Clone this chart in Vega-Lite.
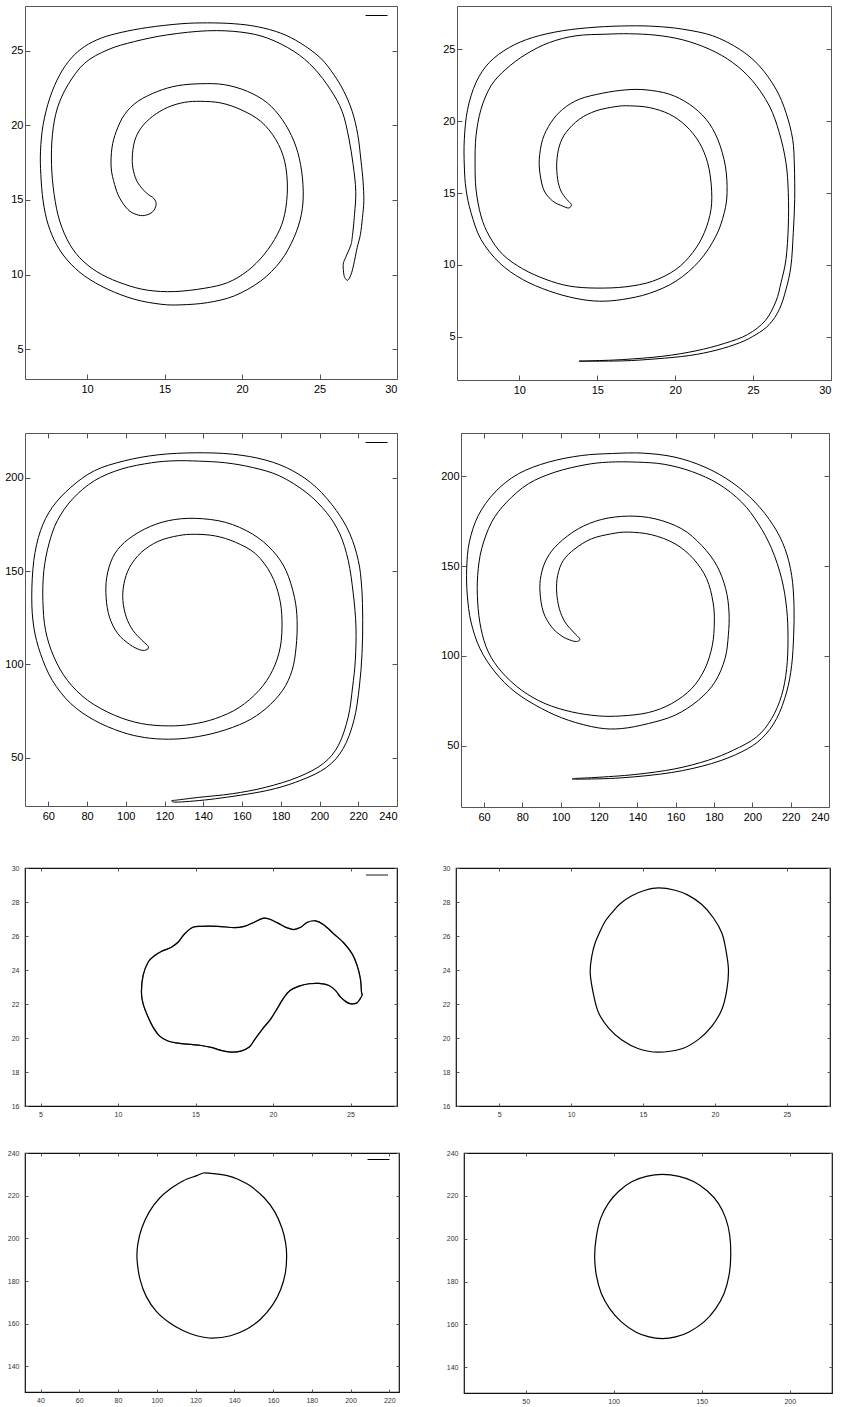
{
"$schema": "https://vega.github.io/schema/vega-lite/v6.json",
"padding": {"left": 4, "top": 3, "right": 5, "bottom": 0},
"background": "white",
"config": {
  "font": "Liberation Sans",
  "axis": {"domain": false, "grid": false, "labelFont": "Liberation Sans", "tickColor": "#555", "labelColor": "#000"},
  "legend": {"orient": "top-right", "offset": 10, "symbolType": "stroke", "symbolSize": 484, "symbolStrokeWidth": 1, "padding": 0, "labelOffset": 0, "labelFontSize": 1}
},
"datasets": {
"p1": [
{"i":1,"x":26.83,"y":9.62},{"i":2,"x":27.04,"y":10.02},{"i":3,"x":27.21,"y":10.69},{"i":4,"x":27.43,"y":11.80},{"i":5,"x":27.64,"y":12.69},{"i":6,"x":27.77,"y":13.81},{"i":7,"x":27.86,"y":14.92},{"i":8,"x":27.81,"y":16.26},{"i":9,"x":27.68,"y":17.60},{"i":10,"x":27.47,"y":19.38},{"i":11,"x":27.11,"y":20.94},{"i":12,"x":26.57,"y":22.28},{"i":13,"x":25.93,"y":23.39},{"i":14,"x":25.07,"y":24.51},{"i":15,"x":23.78,"y":25.51},{"i":16,"x":22.50,"y":26.18},{"i":17,"x":21.00,"y":26.61},{"i":18,"x":19.50,"y":26.81},{"i":19,"x":17.78,"y":26.87},{"i":20,"x":16.07,"y":26.81},{"i":21,"x":13.92,"y":26.56},{"i":22,"x":12.21,"y":26.23},{"i":23,"x":10.92,"y":25.85},{"i":24,"x":9.85,"y":25.29},{"i":25,"x":8.99,"y":24.51},{"i":26,"x":8.24,"y":23.39},{"i":27,"x":7.60,"y":21.83},{"i":28,"x":7.17,"y":20.05},{"i":29,"x":7.00,"y":18.27},{"i":30,"x":7.02,"y":16.71},{"i":31,"x":7.17,"y":14.92},{"i":32,"x":7.49,"y":13.36},{"i":33,"x":8.03,"y":12.02},{"i":34,"x":8.78,"y":10.91},{"i":35,"x":9.85,"y":9.90},{"i":36,"x":11.35,"y":9.01},{"i":37,"x":13.07,"y":8.34},{"i":38,"x":14.78,"y":8.01},{"i":39,"x":16.07,"y":7.97},{"i":40,"x":17.78,"y":8.12},{"i":41,"x":19.50,"y":8.57},{"i":42,"x":21.21,"y":9.57},{"i":43,"x":22.50,"y":10.91},{"i":44,"x":23.35,"y":12.47},{"i":45,"x":23.83,"y":14.03},{"i":46,"x":23.95,"y":15.59},{"i":47,"x":23.78,"y":17.37},{"i":48,"x":23.35,"y":18.94},{"i":49,"x":22.60,"y":20.38},{"i":50,"x":21.64,"y":21.50},{"i":51,"x":20.35,"y":22.28},{"i":52,"x":18.85,"y":22.73},{"i":53,"x":17.35,"y":22.79},{"i":54,"x":15.85,"y":22.66},{"i":55,"x":14.57,"y":22.28},{"i":56,"x":13.28,"y":21.61},{"i":57,"x":12.42,"y":20.72},{"i":58,"x":11.89,"y":19.60},{"i":59,"x":11.61,"y":18.49},{"i":60,"x":11.56,"y":17.15},{"i":61,"x":11.78,"y":16.04},{"i":62,"x":12.10,"y":15.14},{"i":63,"x":12.64,"y":14.36},{"i":64,"x":13.17,"y":14.03},{"i":65,"x":13.71,"y":13.96},{"i":66,"x":14.24,"y":14.21},{"i":67,"x":14.46,"y":14.70},{"i":68,"x":14.31,"y":15.10},{"i":69,"x":13.82,"y":15.48},{"i":70,"x":13.28,"y":16.15},{"i":71,"x":13.00,"y":16.93},{"i":72,"x":12.92,"y":17.82},{"i":73,"x":13.07,"y":18.94},{"i":74,"x":13.49,"y":19.83},{"i":75,"x":14.24,"y":20.61},{"i":76,"x":15.21,"y":21.21},{"i":77,"x":16.28,"y":21.54},{"i":78,"x":17.35,"y":21.61},{"i":79,"x":18.64,"y":21.50},{"i":80,"x":19.93,"y":21.05},{"i":81,"x":21.21,"y":20.27},{"i":82,"x":22.18,"y":19.05},{"i":83,"x":22.75,"y":17.60},{"i":84,"x":22.93,"y":15.81},{"i":85,"x":22.75,"y":14.03},{"i":86,"x":22.28,"y":12.69},{"i":87,"x":21.43,"y":11.35},{"i":88,"x":20.35,"y":10.24},{"i":89,"x":19.07,"y":9.46},{"i":90,"x":17.57,"y":9.08},{"i":91,"x":15.64,"y":8.86},{"i":92,"x":13.92,"y":8.95},{"i":93,"x":12.42,"y":9.35},{"i":94,"x":10.92,"y":10.02},{"i":95,"x":9.74,"y":10.91},{"i":96,"x":8.89,"y":12.02},{"i":97,"x":8.24,"y":13.58},{"i":98,"x":7.88,"y":15.37},{"i":99,"x":7.71,"y":17.37},{"i":100,"x":7.77,"y":19.38},{"i":101,"x":8.09,"y":21.16},{"i":102,"x":8.78,"y":22.73},{"i":103,"x":9.85,"y":24.17},{"i":104,"x":11.35,"y":25.07},{"i":105,"x":13.07,"y":25.62},{"i":106,"x":15.21,"y":26.07},{"i":107,"x":17.78,"y":26.34},{"i":108,"x":19.93,"y":26.25},{"i":109,"x":21.64,"y":25.85},{"i":110,"x":23.35,"y":24.96},{"i":111,"x":24.64,"y":23.84},{"i":112,"x":25.71,"y":22.39},{"i":113,"x":26.46,"y":20.94},{"i":114,"x":26.89,"y":19.16},{"i":115,"x":27.17,"y":17.37},{"i":116,"x":27.34,"y":15.59},{"i":117,"x":27.26,"y":14.03},{"i":118,"x":27.11,"y":12.47},{"i":119,"x":27.00,"y":11.91},{"i":120,"x":26.68,"y":11.13},{"i":121,"x":26.53,"y":10.69},{"i":122,"x":26.57,"y":10.02},{"i":123,"x":26.66,"y":9.75}
],
"p2": [
{"i":1,"x":13.96,"y":3.31},{"i":2,"x":16.63,"y":3.33},{"i":3,"x":18.77,"y":3.47},{"i":4,"x":20.91,"y":3.70},{"i":5,"x":22.62,"y":4.07},{"i":6,"x":24.12,"y":4.58},{"i":7,"x":25.19,"y":5.16},{"i":8,"x":26.04,"y":5.86},{"i":9,"x":26.68,"y":6.90},{"i":10,"x":27.11,"y":8.29},{"i":11,"x":27.43,"y":9.92},{"i":12,"x":27.58,"y":12.24},{"i":13,"x":27.67,"y":14.56},{"i":14,"x":27.65,"y":16.88},{"i":15,"x":27.54,"y":18.74},{"i":16,"x":27.11,"y":20.59},{"i":17,"x":26.47,"y":22.22},{"i":18,"x":25.40,"y":23.84},{"i":19,"x":24.12,"y":25.00},{"i":20,"x":22.41,"y":25.93},{"i":21,"x":20.48,"y":26.39},{"i":22,"x":18.77,"y":26.58},{"i":23,"x":17.06,"y":26.62},{"i":24,"x":14.92,"y":26.53},{"i":25,"x":12.78,"y":26.28},{"i":26,"x":10.86,"y":25.81},{"i":27,"x":9.36,"y":25.12},{"i":28,"x":8.07,"y":24.07},{"i":29,"x":7.22,"y":22.68},{"i":30,"x":6.68,"y":20.82},{"i":31,"x":6.47,"y":18.74},{"i":32,"x":6.47,"y":16.88},{"i":33,"x":6.58,"y":15.26},{"i":34,"x":6.90,"y":13.63},{"i":35,"x":7.54,"y":11.77},{"i":36,"x":8.72,"y":10.15},{"i":37,"x":10.21,"y":8.99},{"i":38,"x":11.93,"y":8.18},{"i":39,"x":13.64,"y":7.67},{"i":40,"x":15.13,"y":7.48},{"i":41,"x":16.63,"y":7.60},{"i":42,"x":18.34,"y":8.02},{"i":43,"x":20.05,"y":8.87},{"i":44,"x":21.55,"y":10.27},{"i":45,"x":22.62,"y":12.01},{"i":46,"x":23.15,"y":13.63},{"i":47,"x":23.33,"y":15.02},{"i":48,"x":23.22,"y":16.88},{"i":49,"x":22.73,"y":18.74},{"i":50,"x":21.98,"y":20.13},{"i":51,"x":20.91,"y":21.17},{"i":52,"x":19.63,"y":21.87},{"i":53,"x":18.13,"y":22.17},{"i":54,"x":16.84,"y":22.17},{"i":55,"x":15.35,"y":21.94},{"i":56,"x":13.85,"y":21.52},{"i":57,"x":12.78,"y":20.82},{"i":58,"x":12.03,"y":19.90},{"i":59,"x":11.50,"y":18.74},{"i":60,"x":11.28,"y":17.34},{"i":61,"x":11.35,"y":16.18},{"i":62,"x":11.60,"y":15.14},{"i":63,"x":12.14,"y":14.44},{"i":64,"x":12.78,"y":14.09},{"i":65,"x":13.17,"y":13.96},{"i":66,"x":13.34,"y":14.19},{"i":67,"x":13.04,"y":14.56},{"i":68,"x":12.67,"y":15.14},{"i":69,"x":12.46,"y":15.95},{"i":70,"x":12.40,"y":17.11},{"i":71,"x":12.57,"y":18.27},{"i":72,"x":12.99,"y":19.20},{"i":73,"x":13.85,"y":20.13},{"i":74,"x":14.92,"y":20.71},{"i":75,"x":16.20,"y":21.01},{"i":76,"x":17.06,"y":21.06},{"i":77,"x":18.34,"y":20.94},{"i":78,"x":19.63,"y":20.48},{"i":79,"x":20.70,"y":19.66},{"i":80,"x":21.55,"y":18.50},{"i":81,"x":22.08,"y":17.11},{"i":82,"x":22.32,"y":15.49},{"i":83,"x":22.30,"y":13.86},{"i":84,"x":21.87,"y":12.24},{"i":85,"x":21.12,"y":10.85},{"i":86,"x":20.05,"y":9.69},{"i":87,"x":18.56,"y":8.87},{"i":88,"x":16.84,"y":8.48},{"i":89,"x":14.92,"y":8.39},{"i":90,"x":13.21,"y":8.53},{"i":91,"x":11.71,"y":8.99},{"i":92,"x":10.21,"y":9.73},{"i":93,"x":8.93,"y":10.73},{"i":94,"x":8.07,"y":12.01},{"i":95,"x":7.54,"y":13.40},{"i":96,"x":7.22,"y":15.26},{"i":97,"x":7.16,"y":17.11},{"i":98,"x":7.22,"y":18.97},{"i":99,"x":7.54,"y":20.82},{"i":100,"x":8.18,"y":22.45},{"i":101,"x":9.14,"y":23.61},{"i":102,"x":10.43,"y":24.65},{"i":103,"x":11.93,"y":25.46},{"i":104,"x":13.64,"y":25.93},{"i":105,"x":15.56,"y":26.04},{"i":106,"x":17.06,"y":26.07},{"i":107,"x":18.77,"y":25.97},{"i":108,"x":20.48,"y":25.65},{"i":109,"x":22.19,"y":25.00},{"i":110,"x":23.69,"y":24.07},{"i":111,"x":24.96,"y":22.80},{"i":112,"x":26.04,"y":21.06},{"i":113,"x":26.68,"y":19.20},{"i":114,"x":27.11,"y":17.11},{"i":115,"x":27.26,"y":15.02},{"i":116,"x":27.26,"y":12.70},{"i":117,"x":27.11,"y":10.38},{"i":118,"x":26.79,"y":8.76},{"i":119,"x":26.47,"y":7.48},{"i":120,"x":25.79,"y":6.14},{"i":121,"x":24.65,"y":5.16},{"i":122,"x":23.15,"y":4.54},{"i":123,"x":21.34,"y":4.03},{"i":124,"x":19.20,"y":3.65},{"i":125,"x":16.63,"y":3.42},{"i":126,"x":14.49,"y":3.33}
],
"p3": [
{"i":1,"x":123.70,"y":26.82},{"i":2,"x":127.18,"y":26.11},{"i":3,"x":146.27,"y":27.89},{"i":4,"x":172.31,"y":32.17},{"i":5,"x":189.66,"y":37.52},{"i":6,"x":203.55,"y":44.66},{"i":7,"x":212.23,"y":54.82},{"i":8,"x":217.78,"y":69.98},{"i":9,"x":220.56,"y":87.82},{"i":10,"x":221.95,"y":105.65},{"i":11,"x":222.30,"y":123.49},{"i":12,"x":221.78,"y":141.32},{"i":13,"x":220.04,"y":155.59},{"i":14,"x":215.70,"y":169.86},{"i":15,"x":208.76,"y":182.34},{"i":16,"x":198.34,"y":194.83},{"i":17,"x":186.19,"y":203.75},{"i":18,"x":172.31,"y":209.45},{"i":19,"x":154.95,"y":212.66},{"i":20,"x":135.85,"y":213.38},{"i":21,"x":116.76,"y":212.31},{"i":22,"x":99.40,"y":209.10},{"i":23,"x":83.78,"y":203.75},{"i":24,"x":71.63,"y":194.83},{"i":25,"x":62.08,"y":184.13},{"i":26,"x":56.01,"y":171.64},{"i":27,"x":52.54,"y":155.59},{"i":28,"x":51.49,"y":135.97},{"i":29,"x":52.54,"y":119.92},{"i":30,"x":56.01,"y":105.65},{"i":31,"x":62.08,"y":91.39},{"i":32,"x":71.63,"y":78.90},{"i":33,"x":83.78,"y":69.98},{"i":34,"x":97.67,"y":63.74},{"i":35,"x":109.82,"y":60.71},{"i":36,"x":121.97,"y":59.82},{"i":37,"x":134.12,"y":60.71},{"i":38,"x":148.01,"y":63.74},{"i":39,"x":161.89,"y":69.09},{"i":40,"x":172.31,"y":76.23},{"i":41,"x":180.99,"y":86.03},{"i":42,"x":185.85,"y":96.74},{"i":43,"x":187.93,"y":109.22},{"i":44,"x":188.45,"y":123.49},{"i":45,"x":187.06,"y":135.97},{"i":46,"x":182.72,"y":150.24},{"i":47,"x":175.78,"y":160.94},{"i":48,"x":165.36,"y":169.86},{"i":49,"x":151.48,"y":176.10},{"i":50,"x":135.85,"y":178.24},{"i":51,"x":121.97,"y":176.99},{"i":52,"x":109.82,"y":172.53},{"i":53,"x":99.40,"y":165.40},{"i":54,"x":93.33,"y":157.37},{"i":55,"x":90.20,"y":146.67},{"i":56,"x":89.86,"y":135.97},{"i":57,"x":91.59,"y":125.27},{"i":58,"x":95.93,"y":116.36},{"i":59,"x":102.01,"y":110.65},{"i":60,"x":107.21,"y":107.79},{"i":61,"x":110.34,"y":107.61},{"i":62,"x":111.73,"y":109.40},{"i":63,"x":108.43,"y":112.79},{"i":64,"x":103.74,"y":118.14},{"i":65,"x":100.27,"y":125.27},{"i":66,"x":98.53,"y":134.19},{"i":67,"x":99.06,"y":143.11},{"i":68,"x":102.01,"y":152.02},{"i":69,"x":108.08,"y":160.05},{"i":70,"x":116.76,"y":165.94},{"i":71,"x":127.18,"y":168.97},{"i":72,"x":135.85,"y":169.68},{"i":73,"x":146.27,"y":168.79},{"i":74,"x":156.69,"y":165.40},{"i":75,"x":167.10,"y":159.16},{"i":76,"x":174.91,"y":148.46},{"i":77,"x":179.25,"y":135.97},{"i":78,"x":180.64,"y":123.49},{"i":79,"x":179.77,"y":109.22},{"i":80,"x":175.78,"y":96.74},{"i":81,"x":168.84,"y":86.03},{"i":82,"x":158.42,"y":76.76},{"i":83,"x":146.27,"y":70.87},{"i":84,"x":134.12,"y":67.84},{"i":85,"x":121.97,"y":66.95},{"i":86,"x":108.08,"y":68.20},{"i":87,"x":94.20,"y":72.66},{"i":88,"x":80.31,"y":80.68},{"i":89,"x":69.89,"y":91.39},{"i":90,"x":62.95,"y":103.87},{"i":91,"x":58.61,"y":118.14},{"i":92,"x":57.22,"y":134.19},{"i":93,"x":57.74,"y":150.24},{"i":94,"x":60.35,"y":164.51},{"i":95,"x":64.69,"y":176.99},{"i":96,"x":72.50,"y":188.59},{"i":97,"x":83.78,"y":198.39},{"i":98,"x":97.67,"y":204.64},{"i":99,"x":113.29,"y":208.03},{"i":100,"x":125.44,"y":209.10},{"i":101,"x":137.59,"y":208.92},{"i":102,"x":151.48,"y":208.03},{"i":103,"x":165.36,"y":205.53},{"i":104,"x":179.25,"y":201.07},{"i":105,"x":193.14,"y":192.15},{"i":106,"x":203.55,"y":181.45},{"i":107,"x":210.50,"y":169.86},{"i":108,"x":214.84,"y":155.59},{"i":109,"x":217.44,"y":137.76},{"i":110,"x":218.83,"y":119.92},{"i":111,"x":218.48,"y":102.09},{"i":112,"x":217.09,"y":87.82},{"i":113,"x":214.83,"y":71.77},{"i":114,"x":209.80,"y":56.61},{"i":115,"x":201.99,"y":46.80},{"i":116,"x":188.97,"y":39.49},{"i":117,"x":171.96,"y":33.96},{"i":118,"x":154.95,"y":30.57},{"i":119,"x":137.59,"y":28.61},{"i":120,"x":126.31,"y":27.18}
],
"p4": [
{"i":1,"x":107.13,"y":31.85},{"i":2,"x":109.22,"y":31.48},{"i":3,"x":131.83,"y":32.22},{"i":4,"x":157.91,"y":35.18},{"i":5,"x":178.78,"y":40.18},{"i":6,"x":194.43,"y":46.67},{"i":7,"x":204.87,"y":54.07},{"i":8,"x":212.69,"y":65.18},{"i":9,"x":217.91,"y":80.00},{"i":10,"x":220.52,"y":94.81},{"i":11,"x":221.56,"y":111.48},{"i":12,"x":221.74,"y":128.15},{"i":13,"x":220.52,"y":144.81},{"i":14,"x":217.04,"y":159.63},{"i":15,"x":210.96,"y":172.59},{"i":16,"x":201.39,"y":185.56},{"i":17,"x":189.22,"y":196.67},{"i":18,"x":175.30,"y":205.00},{"i":19,"x":159.65,"y":210.56},{"i":20,"x":143.00,"y":212.80},{"i":21,"x":127.00,"y":212.60},{"i":22,"x":110.96,"y":211.48},{"i":23,"x":93.57,"y":207.78},{"i":24,"x":77.91,"y":201.30},{"i":25,"x":65.74,"y":191.11},{"i":26,"x":57.04,"y":178.15},{"i":27,"x":52.35,"y":163.33},{"i":28,"x":50.96,"y":148.52},{"i":29,"x":51.30,"y":133.70},{"i":30,"x":53.22,"y":118.89},{"i":31,"x":57.91,"y":104.07},{"i":32,"x":65.74,"y":91.11},{"i":33,"x":76.17,"y":80.00},{"i":34,"x":90.09,"y":70.74},{"i":35,"x":104.00,"y":64.26},{"i":36,"x":119.65,"y":60.00},{"i":37,"x":131.83,"y":59.63},{"i":38,"x":145.74,"y":62.41},{"i":39,"x":159.65,"y":67.04},{"i":40,"x":171.83,"y":75.37},{"i":41,"x":180.52,"y":85.55},{"i":42,"x":185.74,"y":98.52},{"i":43,"x":187.48,"y":111.48},{"i":44,"x":187.83,"y":124.44},{"i":45,"x":186.09,"y":137.41},{"i":46,"x":181.39,"y":150.37},{"i":47,"x":173.57,"y":161.48},{"i":48,"x":163.13,"y":170.74},{"i":49,"x":149.22,"y":176.30},{"i":50,"x":135.30,"y":177.78},{"i":51,"x":121.39,"y":175.93},{"i":52,"x":109.22,"y":170.74},{"i":53,"x":98.78,"y":162.41},{"i":54,"x":92.70,"y":154.07},{"i":55,"x":89.74,"y":144.81},{"i":56,"x":89.22,"y":135.56},{"i":57,"x":90.96,"y":124.44},{"i":58,"x":95.30,"y":116.11},{"i":59,"x":100.52,"y":111.11},{"i":60,"x":105.74,"y":108.52},{"i":61,"x":108.87,"y":108.15},{"i":62,"x":109.91,"y":109.63},{"i":63,"x":106.61,"y":113.33},{"i":64,"x":102.26,"y":118.89},{"i":65,"x":99.30,"y":126.30},{"i":66,"x":97.91,"y":135.56},{"i":67,"x":98.43,"y":144.81},{"i":68,"x":101.39,"y":153.15},{"i":69,"x":107.48,"y":159.63},{"i":70,"x":116.17,"y":165.19},{"i":71,"x":126.61,"y":167.96},{"i":72,"x":135.30,"y":168.89},{"i":73,"x":147.48,"y":167.41},{"i":74,"x":159.65,"y":162.41},{"i":75,"x":169.22,"y":154.07},{"i":76,"x":176.17,"y":142.96},{"i":77,"x":179.48,"y":130.00},{"i":78,"x":180.17,"y":118.89},{"i":79,"x":179.13,"y":105.93},{"i":80,"x":175.30,"y":92.96},{"i":81,"x":168.35,"y":81.85},{"i":82,"x":157.91,"y":73.52},{"i":83,"x":145.74,"y":68.52},{"i":84,"x":131.83,"y":66.67},{"i":85,"x":119.65,"y":66.67},{"i":86,"x":105.74,"y":68.89},{"i":87,"x":91.83,"y":73.52},{"i":88,"x":79.65,"y":80.93},{"i":89,"x":69.22,"y":91.11},{"i":90,"x":62.26,"y":102.22},{"i":91,"x":58.43,"y":115.19},{"i":92,"x":56.70,"y":130.00},{"i":93,"x":56.70,"y":144.81},{"i":94,"x":58.78,"y":159.63},{"i":95,"x":64.00,"y":174.44},{"i":96,"x":71.83,"y":185.56},{"i":97,"x":83.13,"y":195.74},{"i":98,"x":97.04,"y":202.22},{"i":99,"x":112.70,"y":206.30},{"i":100,"x":125.00,"y":207.80},{"i":101,"x":140.00,"y":207.80},{"i":102,"x":154.00,"y":206.60},{"i":103,"x":168.35,"y":202.59},{"i":104,"x":182.26,"y":195.74},{"i":105,"x":194.43,"y":185.56},{"i":106,"x":203.13,"y":173.52},{"i":107,"x":210.09,"y":159.63},{"i":108,"x":215.30,"y":142.96},{"i":109,"x":217.91,"y":126.30},{"i":110,"x":218.61,"y":109.63},{"i":111,"x":217.91,"y":92.96},{"i":112,"x":215.30,"y":78.15},{"i":113,"x":210.09,"y":65.18},{"i":114,"x":202.26,"y":55.00},{"i":115,"x":190.09,"y":47.59},{"i":116,"x":177.04,"y":42.04},{"i":117,"x":159.65,"y":37.22},{"i":118,"x":138.78,"y":34.07},{"i":119,"x":117.91,"y":32.41}
],
"p5": [
{"i":1,"x":11.51,"y":22.70},{"i":2,"x":11.62,"y":23.68},{"i":3,"x":11.94,"y":24.46},{"i":4,"x":12.37,"y":24.85},{"i":5,"x":12.79,"y":25.09},{"i":6,"x":13.44,"y":25.34},{"i":7,"x":13.87,"y":25.63},{"i":8,"x":14.29,"y":26.12},{"i":9,"x":14.83,"y":26.51},{"i":10,"x":15.36,"y":26.57},{"i":11,"x":16.43,"y":26.57},{"i":12,"x":17.51,"y":26.49},{"i":13,"x":18.15,"y":26.57},{"i":14,"x":18.79,"y":26.81},{"i":15,"x":19.33,"y":27.04},{"i":16,"x":19.75,"y":27.00},{"i":17,"x":20.29,"y":26.77},{"i":18,"x":20.82,"y":26.51},{"i":19,"x":21.32,"y":26.38},{"i":20,"x":21.79,"y":26.51},{"i":21,"x":22.22,"y":26.81},{"i":22,"x":22.75,"y":26.89},{"i":23,"x":23.29,"y":26.65},{"i":24,"x":23.93,"y":26.12},{"i":25,"x":24.57,"y":25.59},{"i":26,"x":25.11,"y":24.95},{"i":27,"x":25.43,"y":24.26},{"i":28,"x":25.64,"y":23.48},{"i":29,"x":25.71,"y":22.70},{"i":30,"x":25.75,"y":22.54},{"i":31,"x":25.60,"y":22.27},{"i":32,"x":25.39,"y":22.05},{"i":33,"x":25.04,"y":22.01},{"i":34,"x":24.74,"y":22.11},{"i":35,"x":24.36,"y":22.40},{"i":36,"x":24.04,"y":22.79},{"i":37,"x":23.61,"y":23.09},{"i":38,"x":22.97,"y":23.21},{"i":39,"x":22.32,"y":23.19},{"i":40,"x":21.68,"y":23.05},{"i":41,"x":21.10,"y":22.79},{"i":42,"x":20.72,"y":22.40},{"i":43,"x":20.29,"y":21.76},{"i":44,"x":19.86,"y":21.13},{"i":45,"x":19.33,"y":20.54},{"i":46,"x":18.83,"y":19.92},{"i":47,"x":18.47,"y":19.47},{"i":48,"x":17.93,"y":19.23},{"i":49,"x":17.29,"y":19.17},{"i":50,"x":16.65,"y":19.27},{"i":51,"x":16.01,"y":19.45},{"i":52,"x":15.36,"y":19.56},{"i":53,"x":14.72,"y":19.62},{"i":54,"x":13.87,"y":19.70},{"i":55,"x":13.22,"y":19.82},{"i":56,"x":12.69,"y":20.11},{"i":57,"x":12.26,"y":20.64},{"i":58,"x":11.94,"y":21.23},{"i":59,"x":11.62,"y":22.01}
],
"p6": [
{"i":1,"x":16.08,"y":28.83},{"i":2,"x":17.24,"y":28.69},{"i":3,"x":18.16,"y":28.39},{"i":4,"x":19.09,"y":27.85},{"i":5,"x":19.90,"y":27.06},{"i":6,"x":20.48,"y":26.18},{"i":7,"x":20.76,"y":25.20},{"i":8,"x":20.94,"y":24.03},{"i":9,"x":20.83,"y":22.85},{"i":10,"x":20.48,"y":21.68},{"i":11,"x":19.79,"y":20.70},{"i":12,"x":18.86,"y":19.92},{"i":13,"x":17.70,"y":19.37},{"i":14,"x":16.03,"y":19.17},{"i":15,"x":14.69,"y":19.37},{"i":16,"x":13.53,"y":19.88},{"i":17,"x":12.60,"y":20.60},{"i":18,"x":11.91,"y":21.48},{"i":19,"x":11.56,"y":22.56},{"i":20,"x":11.33,"y":23.83},{"i":21,"x":11.44,"y":24.81},{"i":22,"x":11.67,"y":25.59},{"i":23,"x":12.02,"y":26.28},{"i":24,"x":12.37,"y":26.87},{"i":25,"x":12.83,"y":27.36},{"i":26,"x":13.41,"y":27.90},{"i":27,"x":14.22,"y":28.37},{"i":28,"x":15.15,"y":28.69}
],
"p7": [
{"i":1,"x":124.16,"y":230.63},{"i":2,"x":129.39,"y":230.31},{"i":3,"x":136.36,"y":229.38},{"i":4,"x":141.59,"y":227.81},{"i":5,"x":148.56,"y":224.38},{"i":6,"x":155.53,"y":218.91},{"i":7,"x":160.75,"y":212.66},{"i":8,"x":164.59,"y":204.84},{"i":9,"x":166.50,"y":197.81},{"i":10,"x":167.03,"y":191.56},{"i":11,"x":166.33,"y":183.75},{"i":12,"x":163.89,"y":175.94},{"i":13,"x":159.88,"y":168.91},{"i":14,"x":153.78,"y":162.34},{"i":15,"x":146.81,"y":157.66},{"i":16,"x":138.10,"y":154.38},{"i":17,"x":128.52,"y":153.28},{"i":18,"x":120.68,"y":154.38},{"i":19,"x":113.71,"y":156.72},{"i":20,"x":106.74,"y":160.31},{"i":21,"x":99.77,"y":165.78},{"i":22,"x":94.54,"y":172.81},{"i":23,"x":91.40,"y":180.63},{"i":24,"x":89.83,"y":190.00},{"i":25,"x":90.18,"y":197.03},{"i":26,"x":92.27,"y":204.84},{"i":27,"x":96.28,"y":212.66},{"i":28,"x":101.51,"y":218.91},{"i":29,"x":107.61,"y":223.59},{"i":30,"x":113.71,"y":227.03},{"i":31,"x":120.68,"y":229.38}
],
"p8": [
{"i":1,"x":127.65,"y":230.03},{"i":2,"x":137.12,"y":229.10},{"i":3,"x":145.64,"y":226.60},{"i":4,"x":153.22,"y":222.24},{"i":5,"x":159.47,"y":216.48},{"i":6,"x":163.64,"y":209.47},{"i":7,"x":165.91,"y":201.68},{"i":8,"x":166.48,"y":191.87},{"i":9,"x":165.53,"y":183.01},{"i":10,"x":162.69,"y":174.42},{"i":11,"x":157.95,"y":167.41},{"i":12,"x":151.33,"y":161.18},{"i":13,"x":142.80,"y":156.51},{"i":14,"x":135.23,"y":154.17},{"i":15,"x":127.65,"y":153.40},{"i":16,"x":120.08,"y":154.17},{"i":17,"x":112.50,"y":156.51},{"i":18,"x":104.36,"y":161.18},{"i":19,"x":97.73,"y":167.41},{"i":20,"x":92.99,"y":174.42},{"i":21,"x":90.15,"y":182.99},{"i":22,"x":89.20,"y":191.87},{"i":23,"x":90.15,"y":200.90},{"i":24,"x":92.61,"y":209.47},{"i":25,"x":96.97,"y":216.48},{"i":26,"x":103.03,"y":222.24},{"i":27,"x":110.23,"y":226.60},{"i":28,"x":118.56,"y":229.10}
]
},
"spacing": 39,
"resolve": {"scale": {"color": "independent"}, "legend": {"color": "independent"}},
"vconcat": [
{
"spacing": 34,
"resolve": {"scale": {"color": "independent"}, "legend": {"color": "independent"}},
"vconcat": [
{
 "hconcat": [
  {
   "width": 372, "height": 373,
   "view": {"stroke": "#555"},
   "data": {"name": "p1"},
   "resolve": {"axis": {"x": "independent", "y": "independent"}},
   "layer": [
    {"mark": {"type": "line", "interpolate": "cardinal-closed", "strokeWidth": 1},
     "encoding": {
      "x": {"field": "x", "type": "quantitative", "scale": {"domain": [6, 30], "nice": false, "zero": false}, "axis": {"orient": "bottom", "title": null, "values": [10, 15, 20, 25, 30], "tickSize": -5, "labelPadding": 9, "labelFontSize": 11}},
      "y": {"field": "y", "type": "quantitative", "scale": {"domain": [3, 28], "nice": false, "zero": false}, "axis": {"orient": "left", "title": null, "values": [5, 10, 15, 20, 25], "tickSize": -5, "labelPadding": 7, "labelFontSize": 11}},
      "order": {"field": "i", "type": "quantitative"},
      "color": {"datum": "k", "scale": {"range": ["#000000"]}, "legend": {"title": null, "labelExpr": "''", "orient": "none", "legendX": 340, "legendY": -2}}
     }},
    {"mark": {"type": "line", "interpolate": "cardinal-closed", "opacity": 0},
     "encoding": {
      "x": {"field": "x", "type": "quantitative", "scale": {"domain": [6, 30], "nice": false, "zero": false}, "axis": null},
      "y": {"field": "y", "type": "quantitative", "scale": {"domain": [3, 28], "nice": false, "zero": false}, "axis": {"orient": "right", "title": null, "values": [5, 10, 15, 20, 25], "tickSize": -5, "labels": false}},
      "order": {"field": "i", "type": "quantitative"}
     }}
   ]
  },
  {
   "width": 374, "height": 374,
   "view": {"stroke": "#555"},
   "data": {"name": "p2"},
   "resolve": {"axis": {"x": "independent", "y": "independent"}},
   "layer": [
    {"mark": {"type": "line", "interpolate": "cardinal-closed", "strokeWidth": 1, "color": "#000000"},
     "encoding": {
      "x": {"field": "x", "type": "quantitative", "scale": {"domain": [6, 30], "nice": false, "zero": false}, "axis": {"orient": "bottom", "title": null, "values": [10, 15, 20, 25, 30], "tickSize": -5, "labelPadding": 9, "labelFontSize": 11}},
      "y": {"field": "y", "type": "quantitative", "scale": {"domain": [2, 28], "nice": false, "zero": false}, "axis": {"orient": "left", "title": null, "values": [5, 10, 15, 20, 25], "tickSize": -5, "labelPadding": 7, "labelFontSize": 11}},
      "order": {"field": "i", "type": "quantitative"}
     }},
    {"mark": {"type": "line", "interpolate": "cardinal-closed", "opacity": 0},
     "encoding": {
      "x": {"field": "x", "type": "quantitative", "scale": {"domain": [6, 30], "nice": false, "zero": false}, "axis": null},
      "y": {"field": "y", "type": "quantitative", "scale": {"domain": [2, 28], "nice": false, "zero": false}, "axis": {"orient": "right", "title": null, "values": [5, 10, 15, 20, 25], "tickSize": -5, "labels": false}},
      "order": {"field": "i", "type": "quantitative"}
     }}
   ]
  }
 ],
 "spacing": 60,
 "bounds": "flush",
 "resolve": {"scale": {"color": "independent"}, "legend": {"color": "independent"}}
},
{
 "hconcat": [
  {
   "width": 372, "height": 373,
   "view": {"stroke": "#555"},
   "data": {"name": "p3"},
   "resolve": {"axis": {"x": "independent", "y": "independent"}},
   "layer": [
    {"mark": {"type": "line", "interpolate": "cardinal-closed", "strokeWidth": 1},
     "encoding": {
      "x": {"field": "x", "type": "quantitative", "scale": {"domain": [48, 240], "nice": false, "zero": false}, "axis": {"orient": "bottom", "title": null, "values": [60, 80, 100, 120, 140, 160, 180, 200, 220, 240], "tickSize": -5, "labelPadding": 9, "labelFontSize": 11}},
      "y": {"field": "y", "type": "quantitative", "scale": {"domain": [24, 224], "nice": false, "zero": false}, "axis": {"orient": "left", "title": null, "values": [50, 100, 150, 200], "tickSize": -5, "labelPadding": 7, "labelFontSize": 11}},
      "order": {"field": "i", "type": "quantitative"},
      "color": {"datum": "k", "scale": {"range": ["#000000"]}, "legend": {"title": null, "labelExpr": "''", "orient": "none", "legendX": 340, "legendY": -2}}
     }},
    {"mark": {"type": "line", "interpolate": "cardinal-closed", "opacity": 0},
     "encoding": {
      "x": {"field": "x", "type": "quantitative", "scale": {"domain": [48, 240], "nice": false, "zero": false}, "axis": {"orient": "top", "title": null, "values": [60, 80, 100, 120, 140, 160, 180, 200, 220, 240], "tickSize": -5, "labels": false}},
      "y": {"field": "y", "type": "quantitative", "scale": {"domain": [24, 224], "nice": false, "zero": false}, "axis": {"orient": "right", "title": null, "values": [50, 100, 150, 200], "tickSize": -5, "labels": false}},
      "order": {"field": "i", "type": "quantitative"}
     }}
   ]
  },
  {
   "width": 368, "height": 374,
   "view": {"stroke": "#555"},
   "data": {"name": "p4"},
   "resolve": {"axis": {"x": "independent", "y": "independent"}},
   "layer": [
    {"mark": {"type": "line", "interpolate": "cardinal-closed", "strokeWidth": 1, "color": "#000000"},
     "encoding": {
      "x": {"field": "x", "type": "quantitative", "scale": {"domain": [48, 240], "nice": false, "zero": false}, "axis": {"orient": "bottom", "title": null, "values": [60, 80, 100, 120, 140, 160, 180, 200, 220, 240], "tickSize": -5, "labelPadding": 9, "labelFontSize": 11}},
      "y": {"field": "y", "type": "quantitative", "scale": {"domain": [16, 224], "nice": false, "zero": false}, "axis": {"orient": "left", "title": null, "values": [50, 100, 150, 200], "tickSize": -5, "labelPadding": 7, "labelFontSize": 11}},
      "order": {"field": "i", "type": "quantitative"}
     }},
    {"mark": {"type": "line", "interpolate": "cardinal-closed", "opacity": 0},
     "encoding": {
      "x": {"field": "x", "type": "quantitative", "scale": {"domain": [48, 240], "nice": false, "zero": false}, "axis": {"orient": "top", "title": null, "values": [60, 80, 100, 120, 140, 160, 180, 200, 220, 240], "tickSize": -5, "labels": false}},
      "y": {"field": "y", "type": "quantitative", "scale": {"domain": [16, 224], "nice": false, "zero": false}, "axis": {"orient": "right", "title": null, "values": [50, 100, 150, 200], "tickSize": -5, "labels": false}},
      "order": {"field": "i", "type": "quantitative"}
     }}
   ]
  }
 ],
 "spacing": 64,
 "bounds": "flush",
 "resolve": {"scale": {"color": "independent"}, "legend": {"color": "independent"}}
}
]
},
{
"spacing": 28,
"resolve": {"scale": {"color": "independent"}, "legend": {"color": "independent"}},
"vconcat": [
{
 "hconcat": [
  {
   "width": 372, "height": 238,
   "view": {"stroke": "#111", "strokeWidth": 1.2},
   "data": {"name": "p5"},
   "resolve": {"axis": {"x": "independent", "y": "independent"}},
   "layer": [
    {"mark": {"type": "line", "interpolate": "cardinal-closed", "strokeWidth": 1.2},
     "encoding": {
      "x": {"field": "x", "type": "quantitative", "scale": {"domain": [4, 28], "nice": false, "zero": false}, "axis": {"orient": "bottom", "title": null, "values": [5, 10, 15, 20, 25], "tickSize": -3, "labelPadding": 7.5, "labelFontSize": 7, "labelColor": "#333"}},
      "y": {"field": "y", "type": "quantitative", "scale": {"domain": [16, 30], "nice": false, "zero": false}, "axis": {"orient": "left", "title": null, "values": [16, 18, 20, 22, 24, 26, 28, 30], "tickSize": -3, "labelPadding": 9, "labelFontSize": 7, "labelColor": "#333"}},
      "order": {"field": "i", "type": "quantitative"},
      "color": {"datum": "k", "scale": {"range": ["#666666"]}, "legend": {"title": null, "labelExpr": "''", "orient": "none", "legendX": 340, "legendY": -5, "symbolStrokeWidth": 1.5}}
     }},
    {"mark": {"type": "line", "interpolate": "cardinal-closed", "opacity": 0},
     "encoding": {
      "x": {"field": "x", "type": "quantitative", "scale": {"domain": [4, 28], "nice": false, "zero": false}, "axis": {"orient": "top", "title": null, "values": [5, 10, 15, 20, 25], "tickSize": -3, "labels": false}},
      "y": {"field": "y", "type": "quantitative", "scale": {"domain": [16, 30], "nice": false, "zero": false}, "axis": {"orient": "right", "title": null, "values": [16, 18, 20, 22, 24, 26, 28, 30], "tickSize": -3, "labels": false}},
      "order": {"field": "i", "type": "quantitative"}
     }},
    {"mark": {"type": "line", "interpolate": "cardinal-closed", "strokeWidth": 1.2, "color": "#000000"},
     "encoding": {
      "x": {"field": "x", "type": "quantitative", "scale": {"domain": [4, 28], "nice": false, "zero": false}, "axis": null},
      "y": {"field": "y", "type": "quantitative", "scale": {"domain": [16, 30], "nice": false, "zero": false}, "axis": null},
      "order": {"field": "i", "type": "quantitative"}
     }}
   ]
  },
  {
   "width": 374, "height": 238,
   "view": {"stroke": "#111", "strokeWidth": 1.2},
   "data": {"name": "p6"},
   "resolve": {"axis": {"x": "independent", "y": "independent"}},
   "layer": [
    {"mark": {"type": "line", "interpolate": "cardinal-closed", "strokeWidth": 1.2, "color": "#000000"},
     "encoding": {
      "x": {"field": "x", "type": "quantitative", "scale": {"domain": [2, 28], "nice": false, "zero": false}, "axis": {"orient": "bottom", "title": null, "values": [5, 10, 15, 20, 25], "tickSize": -3, "labelPadding": 7.5, "labelFontSize": 7, "labelColor": "#333"}},
      "y": {"field": "y", "type": "quantitative", "scale": {"domain": [16, 30], "nice": false, "zero": false}, "axis": {"orient": "left", "title": null, "values": [16, 18, 20, 22, 24, 26, 28, 30], "tickSize": -3, "labelPadding": 9, "labelFontSize": 7, "labelColor": "#333"}},
      "order": {"field": "i", "type": "quantitative"}
     }},
    {"mark": {"type": "line", "interpolate": "cardinal-closed", "opacity": 0},
     "encoding": {
      "x": {"field": "x", "type": "quantitative", "scale": {"domain": [2, 28], "nice": false, "zero": false}, "axis": {"orient": "top", "title": null, "values": [5, 10, 15, 20, 25], "tickSize": -3, "labels": false}},
      "y": {"field": "y", "type": "quantitative", "scale": {"domain": [16, 30], "nice": false, "zero": false}, "axis": {"orient": "right", "title": null, "values": [16, 18, 20, 22, 24, 26, 28, 30], "tickSize": -3, "labels": false}},
      "order": {"field": "i", "type": "quantitative"}
     }}
   ]
  }
 ],
 "spacing": 59,
 "bounds": "flush",
 "resolve": {"scale": {"color": "independent"}, "legend": {"color": "independent"}}
},
{
 "hconcat": [
  {
   "width": 374, "height": 239,
   "view": {"stroke": "#111", "strokeWidth": 1.2},
   "data": {"name": "p7"},
   "resolve": {"axis": {"x": "independent", "y": "independent"}},
   "layer": [
    {"mark": {"type": "line", "interpolate": "cardinal-closed", "strokeWidth": 1.2},
     "encoding": {
      "x": {"field": "x", "type": "quantitative", "scale": {"domain": [32, 225], "nice": false, "zero": false}, "axis": {"orient": "bottom", "title": null, "values": [40, 60, 80, 100, 120, 140, 160, 180, 200, 220], "tickSize": -3, "labelPadding": 7.5, "labelFontSize": 7, "labelColor": "#333"}},
      "y": {"field": "y", "type": "quantitative", "scale": {"domain": [128, 240], "nice": false, "zero": false}, "axis": {"orient": "left", "title": null, "values": [140, 160, 180, 200, 220, 240], "tickSize": -3, "labelPadding": 9, "labelFontSize": 7, "labelColor": "#333"}},
      "order": {"field": "i", "type": "quantitative"},
      "color": {"datum": "k", "scale": {"range": ["#000000"]}, "legend": {"title": null, "labelExpr": "''", "orient": "none", "legendX": 342, "legendY": -5}}
     }},
    {"mark": {"type": "line", "interpolate": "cardinal-closed", "opacity": 0},
     "encoding": {
      "x": {"field": "x", "type": "quantitative", "scale": {"domain": [32, 225], "nice": false, "zero": false}, "axis": {"orient": "top", "title": null, "values": [40, 60, 80, 100, 120, 140, 160, 180, 200, 220], "tickSize": -3, "labels": false}},
      "y": {"field": "y", "type": "quantitative", "scale": {"domain": [128, 240], "nice": false, "zero": false}, "axis": {"orient": "right", "title": null, "values": [140, 160, 180, 200, 220, 240], "tickSize": -3, "labels": false}},
      "order": {"field": "i", "type": "quantitative"}
     }}
   ]
  },
  {
   "width": 368, "height": 240,
   "view": {"stroke": "#111", "strokeWidth": 1.2},
   "data": {"name": "p8"},
   "resolve": {"axis": {"x": "independent", "y": "independent"}},
   "layer": [
    {"mark": {"type": "line", "interpolate": "cardinal-closed", "strokeWidth": 1.2, "color": "#000000"},
     "encoding": {
      "x": {"field": "x", "type": "quantitative", "scale": {"domain": [15, 224], "nice": false, "zero": false}, "axis": {"orient": "bottom", "title": null, "values": [50, 100, 150, 200], "tickSize": -3, "labelPadding": 7.5, "labelFontSize": 7, "labelColor": "#333"}},
      "y": {"field": "y", "type": "quantitative", "scale": {"domain": [128, 240], "nice": false, "zero": false}, "axis": {"orient": "left", "title": null, "values": [140, 160, 180, 200, 220, 240], "tickSize": -3, "labelPadding": 9, "labelFontSize": 7, "labelColor": "#333"}},
      "order": {"field": "i", "type": "quantitative"}
     }},
    {"mark": {"type": "line", "interpolate": "cardinal-closed", "opacity": 0},
     "encoding": {
      "x": {"field": "x", "type": "quantitative", "scale": {"domain": [15, 224], "nice": false, "zero": false}, "axis": {"orient": "top", "title": null, "values": [50, 100, 150, 200], "tickSize": -3, "labels": false}},
      "y": {"field": "y", "type": "quantitative", "scale": {"domain": [128, 240], "nice": false, "zero": false}, "axis": {"orient": "right", "title": null, "values": [140, 160, 180, 200, 220, 240], "tickSize": -3, "labels": false}},
      "order": {"field": "i", "type": "quantitative"}
     }}
   ]
  }
 ],
 "spacing": 65,
 "bounds": "flush",
 "resolve": {"scale": {"color": "independent"}, "legend": {"color": "independent"}}
}
]
}
]
}
